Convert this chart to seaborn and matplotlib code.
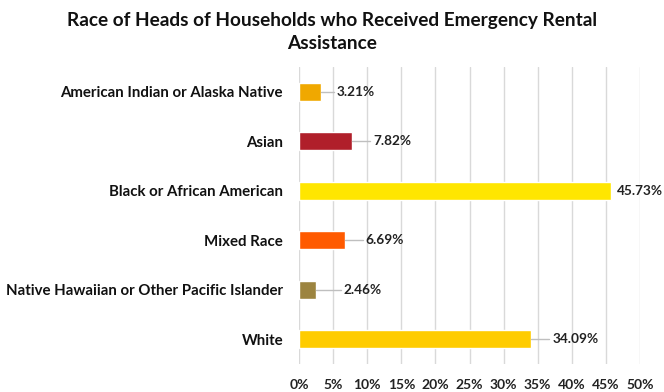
import matplotlib
matplotlib.use("Agg")
import matplotlib.pyplot as plt
import seaborn as sns
import pandas as pd

categories = ["American Indian or Alaska Native", "Asian", "Black or African American",
              "Mixed Race", "Native Hawaiian or Other Pacific Islander", "White"]
values = [3.21, 7.82, 45.73, 6.69, 2.46, 34.09]
colors = ["#F0A800", "#B01F2A", "#FFE600", "#FF5A00", "#9C8440", "#FFCC00"]
xticks = [0, 5, 10, 15, 20, 25, 30, 35, 40, 45, 50]
title = "Race of Heads of Households who Received Emergency Rental\nAssistance"
label_gap_px = [16, 21, 6, 21, 28, 21]

sns.set_theme(style="white")
plt.rcParams['font.family'] = ['Lato', 'DejaVu Sans']

df = pd.DataFrame({"cat": categories, "val": values})
fig = plt.figure(figsize=(6.64, 3.92), dpi=100)
ax = fig.add_axes([299/664, 1-364/392, (640-299)/664, (364-67)/392])
sns.barplot(data=df, y="cat", x="val", hue="cat", palette=colors, legend=False,
            width=0.37, ax=ax, saturation=1, orient="h")
ax.set_xlim(0, 50)
ax.set_ylim(5.5, -0.5)
ax.set_xticks(xticks)
ax.set_xticklabels([f"{t}%" for t in xticks], fontsize=10, fontweight="bold", color="#222222")
ax.tick_params(axis="x", pad=11, length=0)
ax.tick_params(axis="y", length=0, pad=11.5)
for lab in ax.get_yticklabels():
    lab.set_fontsize(10.8)
    lab.set_fontweight("bold")
    lab.set_color("#111111")
ax.set_xlabel("")
ax.set_ylabel("")
ax.xaxis.grid(True, color="#D9D9D9", linewidth=1)
ax.set_axisbelow(True)
for s in ax.spines.values():
    s.set_visible(False)

px = 341 / 50.0  # pixels per unit
for i, (v, g) in enumerate(zip(values, label_gap_px)):
    tx = v + g / px
    if g > 8:
        ax.plot([v, tx - 3 / px], [i, i], color="#BFBFBF", linewidth=1, zorder=1)
    ax.text(tx, i, f"{v:.2f}%", va="center", ha="left", fontsize=9.8,
            fontweight="bold", color="#222222", clip_on=False)

fig.text(0.5, 1-32/392, title, ha="center", va="center", fontsize=13.7,
         fontweight="bold", color="#111111", linespacing=1.4)
fig.savefig("out.png", dpi=100)
